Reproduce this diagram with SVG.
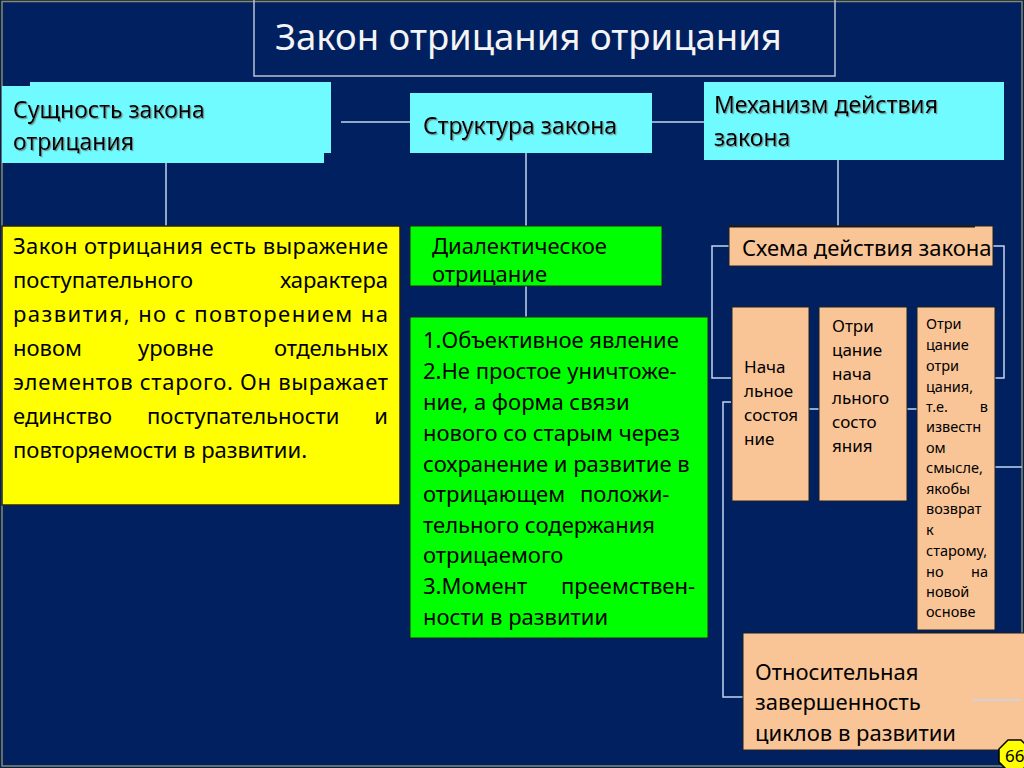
<svg xmlns="http://www.w3.org/2000/svg" width="1024" height="768" viewBox="0 0 1024 768">
<defs>
<filter id="sh" x="-5%" y="-20%" width="110%" height="140%">
<feDropShadow dx="1.2" dy="1.2" stdDeviation="0.6" flood-color="#6a8a8a" flood-opacity="0.9"/>
</filter>
<style>
text{font-family:"Noto Sans","Open Sans","DejaVu Sans",sans-serif;fill:#000}
.cy{fill:#6ffbff}
.ye{fill:#ffff00;stroke:#202020;stroke-width:1.5}
.gr{fill:#00ff00;stroke:#202020;stroke-width:1}
.pe{fill:#fac596;stroke:#202020;stroke-width:1}
.con{fill:none;stroke:#c4d4ee;stroke-width:1.5}
.t23{font-size:23px}
.t22{font-size:22px}
.t17{font-size:17px}
.t14{font-size:14.5px}
.e{text-anchor:end}
</style>
</defs>
<rect x="0" y="0" width="1024" height="768" fill="#002060"/>
<rect x="2" y="1.5" width="1020" height="764.5" fill="none" stroke="#8a8a5a" stroke-width="1.5"/>

<g id="title">
<rect x="254" y="-2" width="581" height="78" fill="none" stroke="#b8c0d4" stroke-width="1.5"/>
<text x="275" y="50" font-size="36.5" style="fill:#f4f4f4">Закон отрицания отрицания</text>
</g>

<g id="connectors">
<path class="con" d="M341 122H410M652 122H704M166 153V226M526 153V226M526 286V317M838 160V226"/>
<path class="con" d="M729 246H712V378H731M993 246H1004V378H995"/>
<path class="con" d="M809 409H819M907 409H917M731 402H723V697H743M995 467H1022M972 700H1022"/>
</g>

<g id="essence">
<rect class="cy" x="30" y="82" width="301" height="71"/>
<rect class="cy" x="2" y="86" width="322" height="77"/>
<g filter="url(#sh)">
<text class="t23" x="13" y="118">Сущность закона</text>
<text class="t23" x="13" y="150">отрицания</text>
</g>
</g>

<g id="structure">
<rect class="cy" x="410" y="93" width="242" height="60"/>
<text class="t23" x="423" y="134" filter="url(#sh)">Структура закона</text>
</g>

<g id="mechanism">
<rect class="cy" x="704" y="82" width="300" height="78"/>
<g filter="url(#sh)">
<text class="t23" x="714" y="113">Механизм действия</text>
<text class="t23" x="714" y="146">закона</text>
</g>
</g>

<g id="definition">
<rect class="ye" x="2" y="226" width="398" height="279"/>
<g class="t22">
<text x="13" y="254" textLength="375" lengthAdjust="spacing">Закон отрицания есть выражение</text>
<text x="13" y="288">поступательного</text><text class="e" x="388" y="288">характера</text>
<text x="13" y="322" textLength="375" lengthAdjust="spacing">развития, но с повторением на</text>
<text x="13" y="356">новом</text><text x="138" y="356">уровне</text><text class="e" x="388" y="356">отдельных</text>
<text x="13" y="390" textLength="375" lengthAdjust="spacing">элементов старого. Он выражает</text>
<text x="13" y="424">единство</text><text x="147" y="424">поступательности</text><text class="e" x="388" y="424">и</text>
<text x="13" y="458">повторяемости в развитии.</text>
</g>
</g>

<g id="dialectic">
<rect class="gr" x="410" y="226" width="252" height="60"/>
<text class="t22" x="432" y="254">Диалектическое</text>
<text class="t22" x="432" y="282">отрицание</text>
</g>

<g id="features">
<rect class="gr" x="410" y="317" width="298" height="321"/>
<g class="t22">
<text x="423" y="348">1.Объективное явление</text>
<text x="423" y="379">2.Не простое уничтоже-</text>
<text x="423" y="410">ние, а форма связи</text>
<text x="423" y="441">нового со старым через</text>
<text x="423" y="472">сохранение и развитие в</text>
<text x="423" y="502">отрицающем</text><text x="580" y="502">положи-</text>
<text x="423" y="533">тельного содержания</text>
<text x="423" y="563">отрицаемого</text>
<text x="423" y="594">3.Момент</text><text class="e" x="695" y="594">преемствен-</text>
<text x="423" y="625">ности в развитии</text>
</g>
</g>

<g id="scheme">
<rect class="pe" x="729" y="226" width="264" height="40" stroke="none"/>
<path d="M729 226.5H975" stroke="#1a1a1a" stroke-width="2"/>
<text class="t22" x="742" y="256">Схема действия закона</text>
</g>

<g id="initial">
<rect class="pe" x="732" y="307" width="77" height="194"/>
<g class="t17">
<text x="744" y="373">Нача</text>
<text x="744" y="397">льное</text>
<text x="744" y="421">состоя</text>
<text x="744" y="445">ние</text>
</g>
</g>

<g id="negation1">
<rect class="pe" x="819" y="307" width="88" height="194"/>
<g class="t17">
<text x="832" y="332">Отри</text>
<text x="832" y="356">цание</text>
<text x="832" y="380">нача</text>
<text x="832" y="404">льного</text>
<text x="832" y="428">состо</text>
<text x="832" y="452">яния</text>
</g>
</g>

<g id="negation2">
<rect class="pe" x="917" y="307" width="78" height="323"/>
<g class="t14">
<text x="926" y="329">Отри</text>
<text x="926" y="350">цание</text>
<text x="926" y="371">отри</text>
<text x="926" y="392">цания,</text>
<text x="926" y="412">т.е.</text><text class="e" x="988" y="412">в</text>
<text x="926" y="432">известн</text>
<text x="926" y="453">ом</text>
<text x="926" y="473">смысле,</text>
<text x="926" y="494">якобы</text>
<text x="926" y="514">возврат</text>
<text x="926" y="535">к</text>
<text x="926" y="556">старому,</text>
<text x="926" y="577">но</text><text class="e" x="988" y="577">на</text>
<text x="926" y="597">новой</text>
<text x="926" y="617">основе</text>
</g>
</g>

<g id="completeness">
<rect class="pe" x="743" y="633" width="285" height="117"/>
<path class="con" d="M972 700H1022"/>
<g class="t22">
<text x="755" y="680">Относительная</text>
<text x="755" y="710">завершенность</text>
<text x="755" y="741">циклов в развитии</text>
</g>
</g>

<g id="badge">
<polygon points="1008,740 1021,740 1030,749 1030,762 1021,771 1008,771 999,762 999,749" fill="#ffff00" stroke="#000" stroke-width="1.5"/>
<text x="1005" y="762" font-size="17">66</text>
</g>
</svg>
